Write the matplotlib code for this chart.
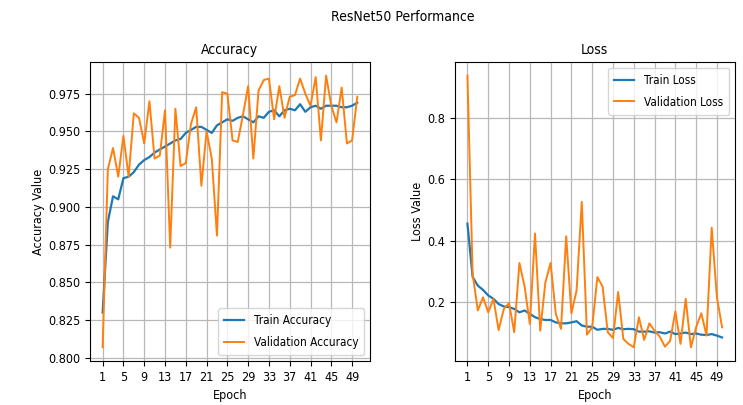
import numpy as np
import matplotlib
matplotlib.use("Agg")
import matplotlib.pyplot as plt

plt.rcParams['font.family'] = ['DejaVu Sans']
plt.rcParams['font.stretch'] = 'condensed'

epochs = list(range(1, 51))

train_acc = [0.830, 0.890, 0.907, 0.905, 0.919, 0.920, 0.923, 0.928, 0.931, 0.933,
             0.936, 0.938, 0.940, 0.942, 0.944, 0.945, 0.949, 0.951, 0.953, 0.953,
             0.951, 0.949, 0.954, 0.956, 0.958, 0.957, 0.959, 0.960, 0.958, 0.956,
             0.960, 0.959, 0.963, 0.964, 0.960, 0.964, 0.965, 0.964, 0.968, 0.963,
             0.966, 0.967, 0.965, 0.967, 0.967, 0.967, 0.966, 0.966, 0.967, 0.969]
val_acc = [0.807, 0.925, 0.939, 0.920, 0.947, 0.920, 0.962, 0.959, 0.942, 0.970,
           0.932, 0.934, 0.964, 0.873, 0.965, 0.927, 0.929, 0.955, 0.966, 0.914,
           0.950, 0.932, 0.881, 0.976, 0.975, 0.944, 0.943, 0.961, 0.980, 0.932,
           0.977, 0.984, 0.985, 0.958, 0.980, 0.959, 0.973, 0.974, 0.985, 0.975,
           0.967, 0.986, 0.944, 0.987, 0.967, 0.956, 0.979, 0.942, 0.944, 0.973]

train_loss = [0.455, 0.281, 0.253, 0.239, 0.221, 0.210, 0.193, 0.185, 0.183, 0.177,
              0.166, 0.172, 0.161, 0.150, 0.144, 0.141, 0.141, 0.133, 0.130, 0.130,
              0.133, 0.137, 0.123, 0.119, 0.119, 0.109, 0.112, 0.112, 0.109, 0.115,
              0.111, 0.112, 0.111, 0.103, 0.103, 0.104, 0.100, 0.101, 0.097, 0.103,
              0.095, 0.097, 0.100, 0.095, 0.097, 0.093, 0.092, 0.095, 0.090, 0.084]
val_loss = [0.938, 0.290, 0.172, 0.215, 0.166, 0.210, 0.108, 0.177, 0.196, 0.101,
            0.327, 0.250, 0.128, 0.423, 0.106, 0.264, 0.327, 0.161, 0.112, 0.414,
            0.163, 0.237, 0.526, 0.093, 0.117, 0.281, 0.250, 0.101, 0.082, 0.232,
            0.079, 0.063, 0.052, 0.150, 0.076, 0.130, 0.106, 0.087, 0.054, 0.073,
            0.169, 0.063, 0.210, 0.052, 0.117, 0.163, 0.090, 0.442, 0.215, 0.117]

xticks = list(range(1, 51, 4))

fig = plt.figure(figsize=(7.43, 4.05), dpi=100)
fig.suptitle("ResNet50 Performance", fontsize=10, x=0.542, y=0.975)

ax1 = fig.add_axes([0.121, 0.109, 0.377, 0.738])
ax2 = fig.add_axes([0.612, 0.109, 0.377, 0.738])

leg_kw = dict(fontsize=8.5, handlelength=1.7, labelspacing=0.75, borderpad=0.5)

ax1.plot(epochs, train_acc, color='#1f77b4', lw=1.6, label="Train Accuracy")
ax1.plot(epochs, val_acc, color='#ff7f0e', lw=1.4, label="Validation Accuracy")
ax1.set_title("Accuracy", fontsize=10)
ax1.set_ylabel("Accuracy Value", fontsize=9, labelpad=2)
ax1.set_xlabel("Epoch", fontsize=9)
ax1.legend(loc="lower right", **leg_kw)

ax2.plot(epochs, train_loss, color='#1f77b4', lw=1.6, label="Train Loss")
ax2.plot(epochs, val_loss, color='#ff7f0e', lw=1.4, label="Validation Loss")
ax2.set_title("Loss", fontsize=10)
ax2.set_ylabel("Loss Value", fontsize=9, labelpad=2)
ax2.set_xlabel("Epoch", fontsize=9)
ax2.legend(loc="upper right", **leg_kw)

for ax in (ax1, ax2):
    ax.set_xticks(xticks)
    ax.tick_params(labelsize=9)
    ax.grid(True, color='#b8b8b8', lw=0.9)

plt.savefig("out.png", dpi=100)
